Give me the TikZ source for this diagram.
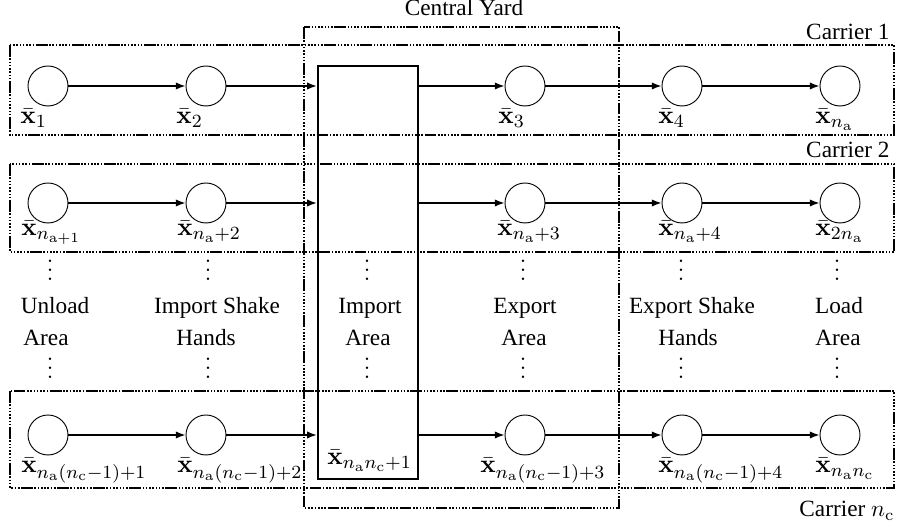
\documentclass[tikz,border=0pt]{standalone}
\usepackage[no-math]{fontspec}
\setmainfont{Liberation Serif}
\usepackage{amsmath,amssymb}
\usepackage{bm}
\usetikzlibrary{arrows.meta,fit}
\newcommand{\xb}[1]{\bar{\mathbf{x}}_{#1}}
\newcommand{\nsa}{n_{\mathrm{a}}}
\newcommand{\nsc}{n_{\mathrm{c}}}
\newcommand{\vdd}{\vbox{\baselineskip4pt\lineskiplimit0pt\hbox{$.$}\hbox{$.$}\hbox{$.$}}}

\begin{document}
\begin{tikzpicture}[x=0.43pt, y=-0.43pt,
	state/.style={circle, draw, line width=0.4pt, minimum size=17.2pt, inner sep=0pt},
	flow/.style={-{Latex[length=4.2pt,width=3.2pt]}, line width=0.7pt},
	carrierbox/.style={line width=0.8pt, dash pattern=on 5pt off 0.7pt on 0.7pt off 0.7pt on 0.7pt off 0.7pt on 0.7pt off 0.7pt on 0.7pt off 0.7pt on 0.7pt off 0.7pt on 0.7pt off 0.7pt on 0.7pt off 0.7pt},
	impbox/.style={draw, line width=1pt, inner sep=0pt},
	lab/.style={anchor=base west, inner sep=0pt, font=\fontsize{10.95}{13}\selectfont},
	word/.style={anchor=base, inner sep=0pt},
	tag/.style={anchor=base east, inner sep=0pt}]
	\useasboundingbox (0,0) rectangle (906,530);
	% carriers and central yard
	\draw[carrierbox] (10,45) rectangle (894,135);
	\draw[carrierbox] (10,164) rectangle (894,252);
	\draw[carrierbox] (10,391) rectangle (894,488);
	\draw[carrierbox] (304,27) rectangle (619,508);
	\node[word] (yard) at (464,16) {Central Yard};
	\node[tag] (car1) at (890,40) {Carrier 1};
	\node[tag] (car2) at (890,158) {Carrier 2};
	\node[tag] (carn) at (895,517) {Carrier $\nsc$};
	\node[impbox, fit={(318,66) (418,479)}] (imp) {};
	% states and flows
	\foreach \r/\y in {1/86,2/203,3/435}{
		\foreach \c/\x in {1/48,2/206,3/525,4/682,5/840}
			\node[state] (c\r\c) at (\x,\y) {};
		\draw[flow] (c\r1) -- (c\r2);
		\draw[flow] (c\r2) -- (c\r2 -| imp.west);
		\draw[flow] (c\r3 -| imp.east) -- (c\r3);
		\draw[flow] (c\r3) -- (c\r4);
		\draw[flow] (c\r4) -- (c\r5);
	}
	% labels
	\node[lab] (l11) at (20,124) {$\xb{1}$};
	\node[lab] (l12) at (176,124) {$\xb{2}$};
	\node[lab] (l13) at (498,124) {$\xb{3}$};
	\node[lab] (l14) at (658,124) {$\xb{4}$};
	\node[lab] (l15) at (815,124) {$\xb{\nsa}$};
	\node[lab] (l21) at (21,236) {$\xb{n_{\mathrm{a}+1}}$};
	\node[lab] (l22) at (177,236) {$\xb{\nsa+2}$};
	\node[lab] (l23) at (497,236) {$\xb{\nsa+3}$};
	\node[lab] (l24) at (658,236) {$\xb{\nsa+4}$};
	\node[lab] (l25) at (815,236) {$\xb{2\nsa}$};
	\node[lab] (l31) at (21,473) {$\xb{\nsa(\nsc-1)+1}$};
	\node[lab] (l32) at (177,473) {$\xb{\nsa(\nsc-1)+2}$};
	\node[lab] (l33) at (480,473) {$\xb{\nsa(\nsc-1)+3}$};
	\node[lab] (l34) at (658,473) {$\xb{\nsa(\nsc-1)+4}$};
	\node[lab] (l35) at (815,473) {$\xb{\nsa\nsc}$};
	\node[lab] (limp) at (327,465) {$\xb{\nsa\nsc+1}$};
	% area names
	\foreach \x in {50,208,367,523,681,837}{
		\node[word] at (\x,281) {\vdd};
		\node[word] at (\x,379) {\vdd};
	}
	\node[word] (unl1) at (55,314) {Unload};
	\node[word] (unl2) at (46,346) {Area};
	\node[word] (ish1) at (217,314) {Import Shake};
	\node[word] (ish2) at (206,346) {Hands};
	\node[word] (ima1) at (370,314) {Import};
	\node[word] (ima2) at (368,346) {Area};
	\node[word] (exa1) at (525,314) {Export};
	\node[word] (exa2) at (524,346) {Area};
	\node[word] (esh1) at (692,314) {Export Shake};
	\node[word] (esh2) at (688,346) {Hands};
	\node[word] (loa1) at (839,314) {Load};
	\node[word] (loa2) at (838,346) {Area};
\end{tikzpicture}
\end{document}
